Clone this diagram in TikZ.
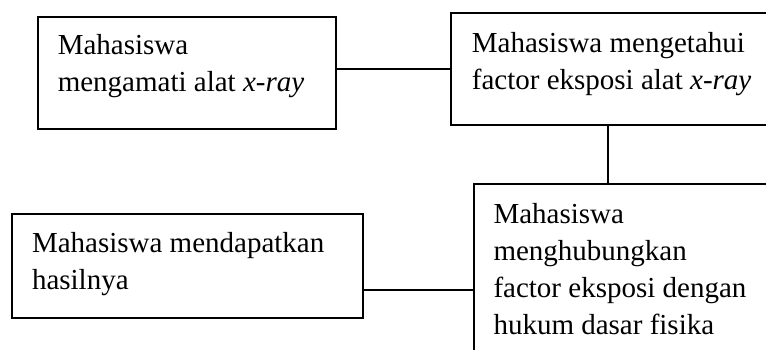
\documentclass[tikz,border=0pt]{standalone}
\usepackage{fontspec}
\setmainfont{Liberation Serif}

\begin{document}
\begin{tikzpicture}[x=1pt,y=-1pt,
  box/.style={draw,line width=1.5pt,rectangle,anchor=north west,inner sep=0pt},
  txt/.style={align=left,inner sep=0pt,anchor=base west,font=\fontsize{29}{37}\selectfont}]
% page frame
\useasboundingbox (0,0) rectangle (766,349);
\clip (0,0) rectangle (766,349);

% boxes
\node[box,minimum width=298pt,minimum height=112pt] (obs) at (37,16) {};
\node[box,minimum width=340pt,minimum height=112pt] (fac) at (450,12) {};
\node[box,minimum width=351pt,minimum height=104pt] (res) at (11,213) {};
\node[box,minimum width=340pt,minimum height=212pt] (law) at (473,183) {};

% texts (base = baseline of the last line)
\node[txt] (obsText) at (57.6,91) {Mahasiswa\\mengamati alat \textit{x-ray}};
\node[txt] (facText) at (471.7,89.5) {Mahasiswa mengetahui\\factor eksposi alat \textit{x-ray}};
\node[txt] (resText) at (31.8,289.5) {Mahasiswa mendapatkan\\hasilnya};
\node[txt] (lawText) at (493.3,334) {Mahasiswa\\menghubungkan\\factor eksposi dengan\\hukum dasar fisika};

% connectors
\coordinate (mid) at (608,0);
\draw[line width=1.5pt] (fac.west) -- (fac.west -| obs.east);
\draw[line width=1.5pt] (fac.south -| mid) -- (law.north -| mid);
\draw[line width=1.5pt] (law.west) -- (law.west -| res.east);

\end{tikzpicture}
\end{document}
